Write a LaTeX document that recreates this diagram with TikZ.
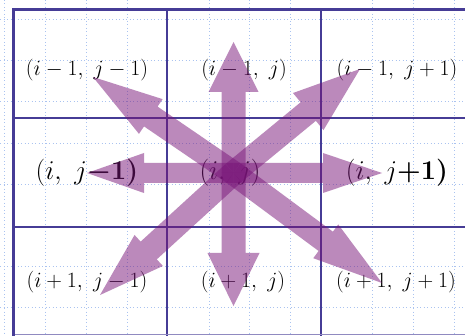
\documentclass[tikz,border=0pt]{standalone}
\usepackage{amsmath}
\usetikzlibrary{calc}
\definecolor{gridblue}{RGB}{70,60,150}
\definecolor{dotblue}{RGB}{170,195,240}
\definecolor{arrowpurple}{RGB}{120,20,120}
\tikzset{
  outerline/.style={draw=gridblue, line width=3pt},
  innerline/.style={draw=gridblue, line width=1.3pt},
  bottomline/.style={draw=gridblue!60, line width=1pt},
  dotline/.style={draw=dotblue, line width=0.9pt, dash pattern=on 0.9pt off 2.6pt},
  fatarrow/.style={fill=arrowpurple, fill opacity=0.5},
  lab/.style={font=\fontsize{17.28}{20}\selectfont, inner sep=0pt, scale=1.26},
  midlab/.style={font=\fontsize{24.88}{28}\selectfont, inner sep=0pt, scale=1.09},
}
\newcommand\fatarrow[5]{%
  \coordinate (hb) at ($(#2)!#5!(#1)$);
  \fill[fatarrow] ($(#1)!#3!90:(#2)$) -- ($(hb)!#3!90:(#2)$) -- ($(hb)!#4!90:(#2)$) -- (#2)
    -- ($(hb)!#4!-90:(#2)$) -- ($(hb)!#3!-90:(#2)$) -- ($(#1)!#3!-90:(#2)$) -- cycle;}
\begin{document}
\begin{tikzpicture}[x=1pt,y=-1pt]
\useasboundingbox (0,0) rectangle (465,336);
\fill[white] (0,0) rectangle (465,336);
% dotted grid
\foreach \x in {4.5,45.4,86.3,127.2,209,249.9,290.8,372.6,413.5,454.4}
  \draw[dotline] (\x,0) -- (\x,336);
\foreach \y in {19.5,60.7,101.9,143.1,184.3,266.7,307.9}
  \draw[dotline] (0,\y) -- (465,\y);
% solid grid
\draw[innerline] (167,10) -- (167,336);
\draw[innerline] (321,10) -- (321,336);
\draw[innerline] (13,118) -- (465,118);
\draw[innerline] (13,227) -- (465,227);
\draw[bottomline] (13,334.5) -- (465,334.5);
\draw[outerline] (13,337) -- (13,10) -- (466,10);
% labels
\node[lab] (l11) at (87,70) {$(i-1,\ j-1)$};
\node[lab] (l12) at (244,70) {$(i-1,\ j)$};
\node[lab] (l13) at (397,70) {$(i-1,\ j+1)$};
\node[midlab] (l21) at (87,173) {$(i,\ j\boldsymbol{-1)}$};
\node[midlab] (l22) at (230,173) {$(i,\ j)$};
\node[midlab] (l23) at (397,173) {$(i,\ j\boldsymbol{+1)}$};
\node[lab] (l31) at (87,282) {$(i+1,\ j-1)$};
\node[lab] (l32) at (243,282) {$(i+1,\ j)$};
\node[lab] (l33) at (396,282) {$(i+1,\ j+1)$};
% arrows
\coordinate (C) at (233.5,173);
\coordinate (tN) at (233.5,42);
\coordinate (tS) at (233.5,306);
\coordinate (tW) at (87,173);
\coordinate (tE) at (382,173);
\coordinate (tNW) at (93,77);
\coordinate (tNE) at (360,69);
\coordinate (tSW) at (100,295);
\coordinate (tSE) at (382,283);
\fatarrow{C}{tN}{12pt}{25pt}{50pt}
\fatarrow{C}{tS}{12pt}{26pt}{53pt}
\fatarrow{C}{tW}{10pt}{20pt}{57pt}
\fatarrow{C}{tE}{10pt}{20pt}{59pt}
\fatarrow{C}{tNW}{12pt}{21pt}{70pt}
\fatarrow{C}{tNE}{12pt}{24pt}{67pt}
\fatarrow{C}{tSW}{12pt}{21pt}{66pt}
\fatarrow{C}{tSE}{12pt}{21pt}{70pt}
\end{tikzpicture}
\end{document}
